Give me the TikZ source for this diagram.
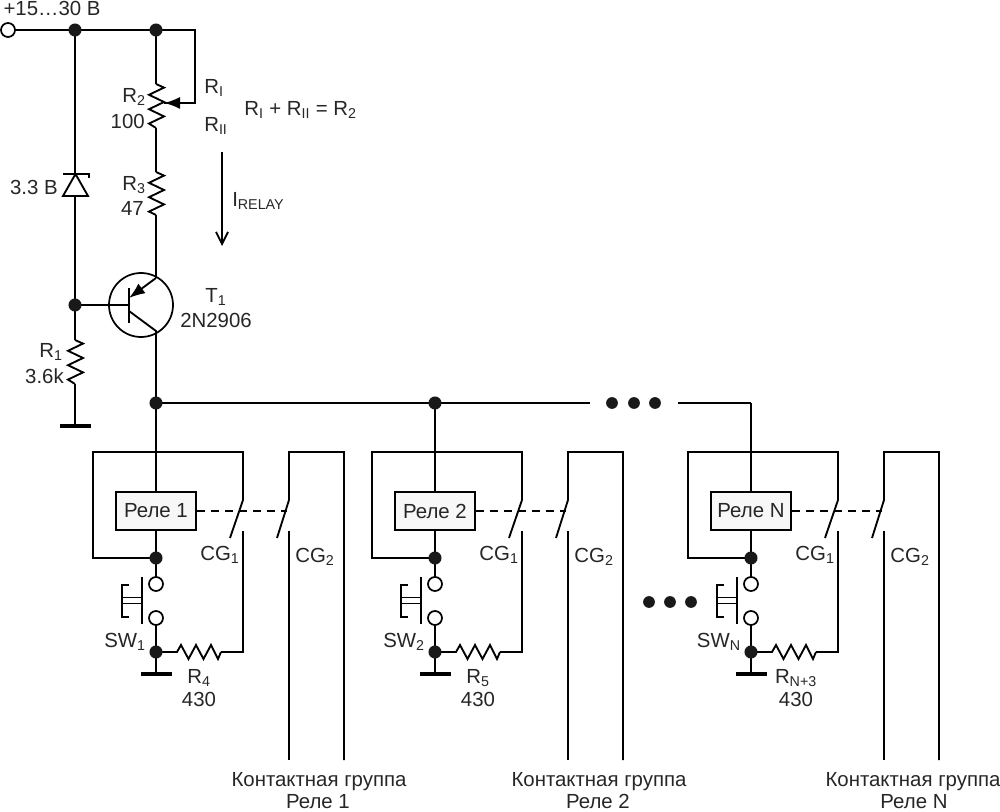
\documentclass[tikz,border=0pt]{standalone}
\usepackage{fontspec}
\setmainfont{Liberation Sans}
\usetikzlibrary{arrows.meta}
\newcommand{\sbs}[2]{#1\textsubscript{#2}}
\tikzset{
    wire/.style={line width=1.4pt},
    lbl/.style={inner sep=0pt,font=\fontsize{15.3}{18}\selectfont,align=center,text=black!85},
    dot/.style={circle,fill=black!90,draw=none,minimum size=9.8pt,inner sep=0pt},
    term/.style={circle,draw,fill=white,line width=1.3pt,minimum size=10.5pt,inner sep=0pt},
    gnd/.style={line width=3.6pt},
    relay/.style={draw,fill=black!3,line width=1.5pt,minimum width=60pt,minimum height=29pt,inner sep=0pt,font=\fontsize{15.3}{18}\selectfont,text=black!85}
}
\newcommand{\zigv}[3]{% x, top, bottom
    \draw[wire] (#1,#2) -- ++(8,3.6) -- ++(-15,7.2) -- ++(15,7.2) -- ++(-15,7.2) -- ++(15,7.2) -- ++(-15,7.2) -- (#1,#3);
}
\begin{document}
\begin{tikzpicture}[x=0.75pt,y=-0.75pt]
    \useasboundingbox (0,0) rectangle (1000,812);

    \coordinate (IN) at (8,30);
    \coordinate (A1) at (75,30);
    \coordinate (A2) at (156,30);
    \coordinate (A3) at (195,30);
    \coordinate (W1) at (195,103);
    \coordinate (W2) at (164,103);
    \coordinate (B1) at (75,305);
    \coordinate (BASE) at (129,305);
    \coordinate (E1) at (156,278);
    \coordinate (E2) at (129,298);
    \coordinate (C1) at (129,311);
    \coordinate (C2) at (156,331);
    \coordinate (BUS1) at (156,403);
    \coordinate (BUS2) at (435,403);
    \coordinate (BUS3) at (590,403);
    \coordinate (BUS4) at (678,403);
    \coordinate (BUS5) at (751,403);
    \coordinate (G1) at (75,426);

    % supply
    \draw[wire] (IN) -- (A1) -- (A2) -- (A3) -- (W1) -- (W2);
    \draw[-{Latex[length=12pt,width=9pt]},wire] (W1) -- (W2);
    \draw[wire] (A1) -- (75,174);
    \draw[wire] (75,196) -- (B1) -- (75,340);
    \draw[wire] (A2) -- (156,84);
    \draw[wire] (156,128) -- (156,172);
    \draw[wire] (156,215) -- (E1);

    % zener
    \draw[wire] (63,174) -- (89,174) -- (89,178);
    \draw[wire] (75.5,174) -- (63,196) -- (88,196) -- cycle;

    \zigv{156}{84}{128}
    \zigv{156}{172}{215}
    \zigv{75}{340}{384}

    % T1
    \draw[line width=1.3pt] (141,305) circle (32);
    \draw[wire] (B1) -- (BASE);
    \draw[line width=1.6pt] (129,288) -- (129,323);
    \draw[wire,-{Latex[length=12pt,width=9pt]}] (E1) -- (E2);
    \draw[wire] (C1) -- (C2) -- (BUS1);

    \draw[wire] (75,384) -- (G1);
    \draw[gnd] (60,426) -- (91,426);

    % bus
    \draw[wire] (BUS1) -- (BUS2) -- (BUS3);
    \draw[wire] (BUS4) -- (BUS5);

    \draw[-{Straight Barb[length=9pt,width=9pt]},wire] (222,152) -- (222,246);

    \foreach \xo/\rtxt/\bx/\by [count=\i] in {
        0/Реле 1/319/318,
        279/Реле 2/599/598,
        595/Реле N/913/914}{
      \begin{scope}[xshift=\xo*0.75pt]
        \coordinate (T\i) at (156,452);
        \coordinate (FL\i) at (93,452);
        \coordinate (FR\i) at (243,452);
        \coordinate (ND\i) at (156,558);
        \coordinate (NE\i) at (156,652);
        \node[relay] (REL\i) at (156,511) {\rtxt};
        \draw[wire] (156,403) -- (REL\i.north);
        \draw[wire] (REL\i.south) -- (ND\i);
        \draw[wire] (ND\i) -- (93,558) -- (FL\i) -- (FR\i) -- (243,500) -- (230,538);
        \draw[wire] (243,531) -- (243,652) -- (221,652);
        \draw[wire] (289,760) -- (289,531);
        \draw[wire] (344,760) -- (344,452) -- (289,452) -- (289,500) -- (277,538);
        \draw[wire,dash pattern=on 6pt off 4.5pt] (REL\i.east) -- (287,511);
        % switch
        \draw[wire] (ND\i) -- (156,577);
        \draw[wire] (156,625) -- (NE\i) -- (156,674);
        \node[term] (S\i a) at (156,584) {};
        \node[term] (S\i b) at (156,618) {};
        \draw[line width=1.3pt] (142,577) -- (142,624);
        \draw[line width=1.3pt] (129,585) -- (122,585) -- (122,617) -- (129,617);
        \draw[line width=0.9pt] (122,597.5) -- (142,597.5);
        \draw[line width=0.9pt] (122,603.5) -- (142,603.5);
        \draw[gnd] (141,674) -- (172,674);
        % resistor
        \draw[wire] (NE\i) -- (177,652) -- ++(4,-7) -- ++(7.5,14) -- ++(7.5,-14) -- ++(7.5,14) -- ++(7.5,-14) -- ++(7,14) -- (221,652);
        \node[dot] (DD\i) at (ND\i) {};
        \node[dot] (DE\i) at (NE\i) {};
        \node[lbl] (CGA\i) at (220,555) {\sbs{CG}{1}};
        \node[lbl] (CGB\i) at (315,557) {\sbs{CG}{2}};
      \end{scope}
      \node[lbl,anchor=base] (KG\i) at (\bx,786) {Контактная группа};
      \node[lbl,anchor=base] (KR\i) at (\by,808) {\rtxt};
    }

    % junctions
    \foreach \p in {A1,A2,B1,BUS1,BUS2}
        \node[dot] at (\p) {};
    \node[term] (INT) at (IN) {};
    \foreach \x in {612,634,655}
        \node[dot,minimum size=8.8pt] at (\x,403) {};
    \foreach \x in {649,670,691}
        \node[dot,minimum size=8.8pt] at (\x,602) {};

    % labels
    \node[lbl] (Lin) at (52,8) {+15…30 В};
    \node[lbl,anchor=east] (Lz) at (58,187) {3.3 В};
    \node[lbl,anchor=east] (LR2) at (146,97) {\sbs{R}{2}};
    \node[lbl,anchor=east] (LR2v) at (145,121) {100};
    \node[lbl,anchor=east] (LR3) at (146,185) {\sbs{R}{3}};
    \node[lbl,anchor=east] (LR3v) at (144,208) {47};
    \node[lbl,anchor=east] (LR1) at (63,352) {\sbs{R}{1}};
    \node[lbl,anchor=east] (LR1v) at (64,376) {3.6k};
    \node[lbl,anchor=west] (LRa) at (204,88) {\sbs{R}{I}};
    \node[lbl,anchor=west] (LRb) at (204,126) {\sbs{R}{II}};
    \node[lbl,anchor=west] (LRs) at (244,110) {\sbs{R}{I} + \sbs{R}{II} = \sbs{R}{2}};
    \node[lbl,anchor=west] (LI) at (232,201) {\sbs{I}{RELAY}};
    \node[lbl] (LT) at (216,297) {\sbs{T}{1}};
    \node[lbl] (LTn) at (216,320) {2N2906};
    \node[lbl,anchor=east] (LS1) at (146,642) {\sbs{SW}{1}};
    \node[lbl,anchor=east] (LS2) at (425,642) {\sbs{SW}{2}};
    \node[lbl,anchor=east] (LS3) at (741,642) {\sbs{SW}{N}};
    \node[lbl] (LR4) at (199,678) {\sbs{R}{4}};
    \node[lbl] (LR4v) at (199,699) {430};
    \node[lbl] (LR5) at (478,678) {\sbs{R}{5}};
    \node[lbl] (LR5v) at (478,699) {430};
    \node[lbl] (LRn) at (796,678) {\sbs{R}{N+3}};
    \node[lbl] (LRnv) at (796,699) {430};
\end{tikzpicture}
\end{document}
